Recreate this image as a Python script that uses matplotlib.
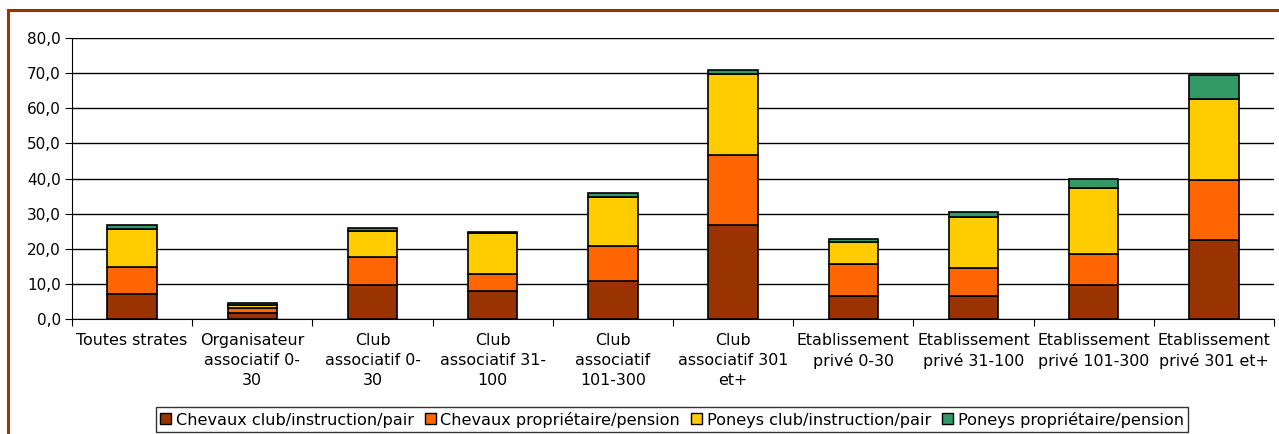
import matplotlib.pyplot as plt
import matplotlib.patches as mpatches
import numpy as np

# %% data
categories = ["Toutes strates", "Organisateur\nassociatif 0-\n30", "Club\nassociatif 0-\n30",
              "Club\nassociatif 31-\n100", "Club\nassociatif\n101-300", "Club\nassociatif 301\net+",
              "Etablissement\nprivé 0-30", "Etablissement\nprivé 31-100", "Etablissement\nprivé 101-300",
              "Etablissement\nprivé 301 et+"]
series_names = ["Chevaux club/instruction/pair", "Chevaux propriétaire/pension",
                "Poneys club/instruction/pair", "Poneys propriétaire/pension"]
chevaux_club = [7.1, 1.5, 9.6, 8.0, 10.8, 26.7, 6.4, 6.4, 9.6, 22.5]
chevaux_prop = [7.7, 1.5, 8.0, 4.8, 9.9, 20.0, 9.2, 8.1, 8.8, 17.0]
poneys_club = [10.7, 0.8, 7.5, 11.6, 14.0, 23.1, 6.2, 14.6, 18.8, 23.2]
poneys_prop = [1.2, 0.6, 0.9, 0.4, 1.3, 1.2, 0.9, 1.3, 2.7, 6.8]
colors = ["#993300", "#FF6600", "#FFCC00", "#339966"]

# %% plot
fig = plt.figure(figsize=(12.79, 4.34), dpi=100)
ax = fig.add_axes([72 / 1279, 1 - 318.7 / 434, (1274 - 72) / 1279, (318.7 - 38.3) / 434])

x = np.arange(len(categories))
bottom = np.zeros(len(categories))
handles = []
for vals, col, name in zip([chevaux_club, chevaux_prop, poneys_club, poneys_prop], colors, series_names):
    ax.bar(x, vals, 0.41, bottom=bottom, color=col, edgecolor="black", linewidth=1.2, zorder=3)
    bottom += np.array(vals)
    handles.append(mpatches.Patch(facecolor=col, edgecolor="black", linewidth=1, label=name))

ax.set_xlim(-0.5, len(categories) - 0.5)
ax.set_ylim(0, 80)
ax.set_yticks(np.arange(0, 81, 10))
ax.set_yticklabels([f"{v:.1f}".replace(".", ",") for v in np.arange(0, 81, 10)], fontsize=11)
ax.yaxis.grid(True, color="black", linewidth=1, zorder=0)
ax.set_axisbelow(True)

# ticks between categories, labels centred
ax.set_xticks(np.arange(-0.5, len(categories), 1))
ax.set_xticklabels([])
ax.set_xticks(x, minor=True)
ax.set_xticklabels(categories, minor=True, fontsize=11.4, linespacing=1.42)
ax.tick_params(axis="x", which="minor", length=0, pad=10)
ax.tick_params(axis="x", which="major", length=5, color="black")
ax.tick_params(axis="y", length=5, color="black", pad=3)

for s in ["top", "right"]:
    ax.spines[s].set_visible(False)
ax.spines["left"].set_color("black")
ax.spines["bottom"].set_color("black")

leg = fig.legend(handles=handles, loc="center", bbox_to_anchor=(672 / 1279, 1 - 419.5 / 434),
                 ncol=4, fontsize=11.6, frameon=True, fancybox=False, edgecolor="black",
                 handlelength=0.65, handleheight=0.65, handletextpad=0.3, columnspacing=0.7,
                 borderpad=0.3, borderaxespad=0)
leg.get_frame().set_linewidth(1)

# outer brown frame (only left and top visible in the reference)
fig.patches.append(mpatches.Rectangle((8 / 1279, -0.1), 1.2, 1 - 10 / 434 + 0.1,
                                      transform=fig.transFigure, fill=False,
                                      edgecolor="#993300", linewidth=2.2))

fig.savefig("out.png", dpi=100)
